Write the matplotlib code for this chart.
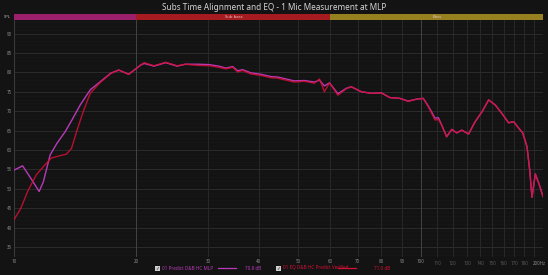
import matplotlib
matplotlib.use("Agg")
import matplotlib.pyplot as plt
from matplotlib.lines import Line2D
from matplotlib.patches import Rectangle
from matplotlib.ticker import FixedLocator, NullFormatter

plt.rcParams["font.family"] = ["Noto Sans", "DejaVu Sans"]

# ---- data ----
freq_lo = [10.0, 10.5, 11.06, 11.53, 11.81, 12.27, 12.75, 13.36, 13.88, 14.55, 15.4]
predict_lo = [54.8, 55.9, 52.3, 49.3, 51.8, 58.7, 61.7, 64.7, 67.7, 71.6, 75.5]
eq_freq_lo = [10.0, 10.4, 10.8, 11.35, 11.9, 12.35, 12.95, 13.45, 13.85, 14.25, 14.8, 15.4]
eq_lo = [42.0, 45.0, 49.3, 53.6, 56.1, 57.9, 58.5, 58.9, 60.4, 64.7, 69.9, 74.6]

freq_hi = [16.3, 17.3, 18.1, 19.15, 20.5, 20.9, 22.1, 23.6, 25.2, 26.4, 28.3, 30.2,
           31.9, 33.2, 34.5, 35.5, 36.5, 38.2, 40.5, 42.9, 44.5, 48.9, 51.8, 54.8,
           56.4, 58.0, 59.7, 62.6, 65.7, 67.5, 71.5, 75.7, 80.1, 84.0, 88.9, 93.2,
           97.8, 101.5, 104.5, 108.5, 110.6, 112.7, 115.9, 119.3, 122.7, 126.3,
           131.2, 136.2, 141.5, 147.0, 152.6, 158.5, 164.6, 169.4, 174.3, 178.3,
           182.7, 185.5, 187.9, 191.5, 195.3, 200.0]
predict_hi = [77.6, 79.8, 80.6, 79.5, 81.9, 82.3, 81.6, 82.5, 81.6, 82.1, 82.1, 82.0,
              81.6, 81.1, 81.5, 80.4, 80.7, 79.9, 79.5, 78.9, 78.8, 77.8, 77.9, 77.5,
              78.0, 76.5, 77.3, 74.5, 75.9, 76.3, 75.0, 74.6, 74.7, 73.5, 73.3, 72.6,
              73.1, 73.3, 71.3, 68.2, 68.3, 66.4, 63.4, 65.3, 64.4, 65.1,
              64.1, 67.3, 69.8, 72.9, 71.6, 69.4, 67.0, 67.3, 65.6, 64.4,
              60.8, 54.8, 47.8, 53.8, 51.4, 48.0]
eq_hi = [77.4, 79.7, 80.6, 79.5, 81.9, 82.5, 81.7, 82.6, 81.7, 82.1, 81.8, 81.7,
         81.3, 80.9, 81.3, 80.1, 80.5, 79.6, 79.2, 78.6, 78.5, 77.5, 77.7, 77.2,
         78.3, 75.0, 77.3, 74.1, 75.8, 76.3, 75.0, 74.6, 74.7, 73.5, 73.3, 72.5,
         73.1, 73.3, 71.1, 67.7, 67.9, 66.4, 63.4, 65.3, 64.4, 65.1,
         64.1, 67.3, 69.8, 72.9, 71.6, 69.4, 67.0, 67.3, 65.6, 64.4,
         60.8, 54.8, 47.8, 53.8, 51.4, 48.0]

predict_f = freq_lo + freq_hi
predict_db = predict_lo + predict_hi
eq_f = eq_freq_lo + freq_hi
eq_db = eq_lo + eq_hi

title = "Subs Time Alignment and EQ - 1 Mic Measurement at MLP"
bands = [("", 10, 20, "#9c1f6c"), ("Sub bass", 20, 60, "#a51b1f"), ("Bass", 60, 200, "#978020")]
x_major = [10, 20, 30, 40, 50, 60, 70, 80, 90, 100]
x_minor = [110, 120, 130, 140, 150, 160, 170, 180, 190]
x_minor_labels = ["110", "120", "130", "140", "150", "160", "170", "180", ""]
y_ticks = [35, 40, 45, 50, 55, 60, 65, 70, 75, 80, 85, 90]
legend_items = [("01 Predict D&B HC MLP", "70.8 dB", "#b83ab8"),
                ("01 EQ D&B HC Predict Verified", "71.0 dB", "#d41034")]

# ---- figure ----
W, H = 548, 275
bg = "#131313"
fig = plt.figure(figsize=(W / 100, H / 100), dpi=100, facecolor=bg)

def fx(px):
    return px / W

def fy(py):
    return 1 - py / H

left, right, top, bottom = 14, 543, 20, 257
ax = fig.add_axes([fx(left), fy(bottom), fx(right - left), (bottom - top) / H])
ax.set_facecolor(bg)
ax.set_xscale("log")
ax.set_xlim(10, 200)
ax.set_ylim(32.4, 93.5)

# grid
for v in range(33, 94):
    if v % 5:
        ax.axhline(v, color="#181818", lw=0.5, zorder=0)
for v in y_ticks:
    ax.axhline(v, color="#2f2f2f", lw=0.6, zorder=0)
for v in x_major + x_minor:
    c = "#4a4a4a" if v in (20, 100) else "#2b2b2b"
    ax.axvline(v, color=c, lw=0.6, zorder=0)

ax.plot(predict_f, predict_db, color=legend_items[0][2], lw=1.0, zorder=3)
ax.plot(eq_f, eq_db, color=legend_items[1][2], lw=1.0, alpha=0.85, zorder=4)

for s in ax.spines.values():
    s.set_visible(False)
ax.axvline(10, color="#3a3a3a", lw=0.8)

ax.xaxis.set_major_locator(FixedLocator(x_major))
ax.xaxis.set_minor_locator(FixedLocator(x_minor))
ax.set_xticklabels([str(v) for v in x_major])
ax.xaxis.set_minor_formatter(NullFormatter())
for v, lab in zip(x_minor, x_minor_labels):
    if lab:
        ax.text(v, -0.015, lab, transform=ax.get_xaxis_transform(), ha="center",
                va="top", fontsize=3.2, color="#5a5a5a")
ax.text(1.006, -0.015, "200Hz", transform=ax.transAxes, ha="right", va="top",
        fontsize=3.2, color="#8a8a8a")
ax.set_yticks(y_ticks)
ax.tick_params(axis="both", which="both", length=0, labelsize=3.2, colors="#8a8a8a", pad=1.5)

# header band
hax = fig.add_axes([fx(left), fy(20), fx(right - left), 6 / H])
hax.set_xscale("log")
hax.set_xlim(10, 200)
hax.set_ylim(0, 1)
hax.axis("off")
for name, a, b, col in bands:
    hax.axvspan(a, b, color=col, lw=0)
    if name:
        hax.text((a * b) ** 0.5, 0.5, name, ha="center", va="center", fontsize=3, color="#e8c8c8")
fig.text(fx(7), fy(17), "SPL", ha="center", va="center", fontsize=3, color="#bdbdbd")

fig.text(0.5, fy(8), title, ha="center", va="center", fontsize=5.9, color="#d4d4d4")

# legend at the bottom
ly = fy(268)
positions = [(157, 218, 253), (278, 338, 382)]
for (label, val, col), (cx, lx, vx) in zip(legend_items, positions):
    fig.patches.append(Rectangle((fx(cx - 2.5), ly - 2.5 / H), 5 / W, 5 / H,
                                 transform=fig.transFigure, facecolor="#cfcfcf",
                                 edgecolor="none"))
    fig.text(fx(cx), ly, "\u2713", ha="center", va="center", fontsize=3.5, color="#202020",
             family=["DejaVu Sans"])
    fig.text(fx(cx + 5), ly, label, ha="left", va="center", fontsize=3.3, color=col)
    fig.lines.append(Line2D([fx(lx), fx(lx + 18)], [ly, ly], transform=fig.transFigure,
                            color=col, lw=0.9))
    fig.text(fx(vx), ly, val, ha="center", va="center", fontsize=3.3, color=col)

fig.savefig("out.png", dpi=100, facecolor=bg)
